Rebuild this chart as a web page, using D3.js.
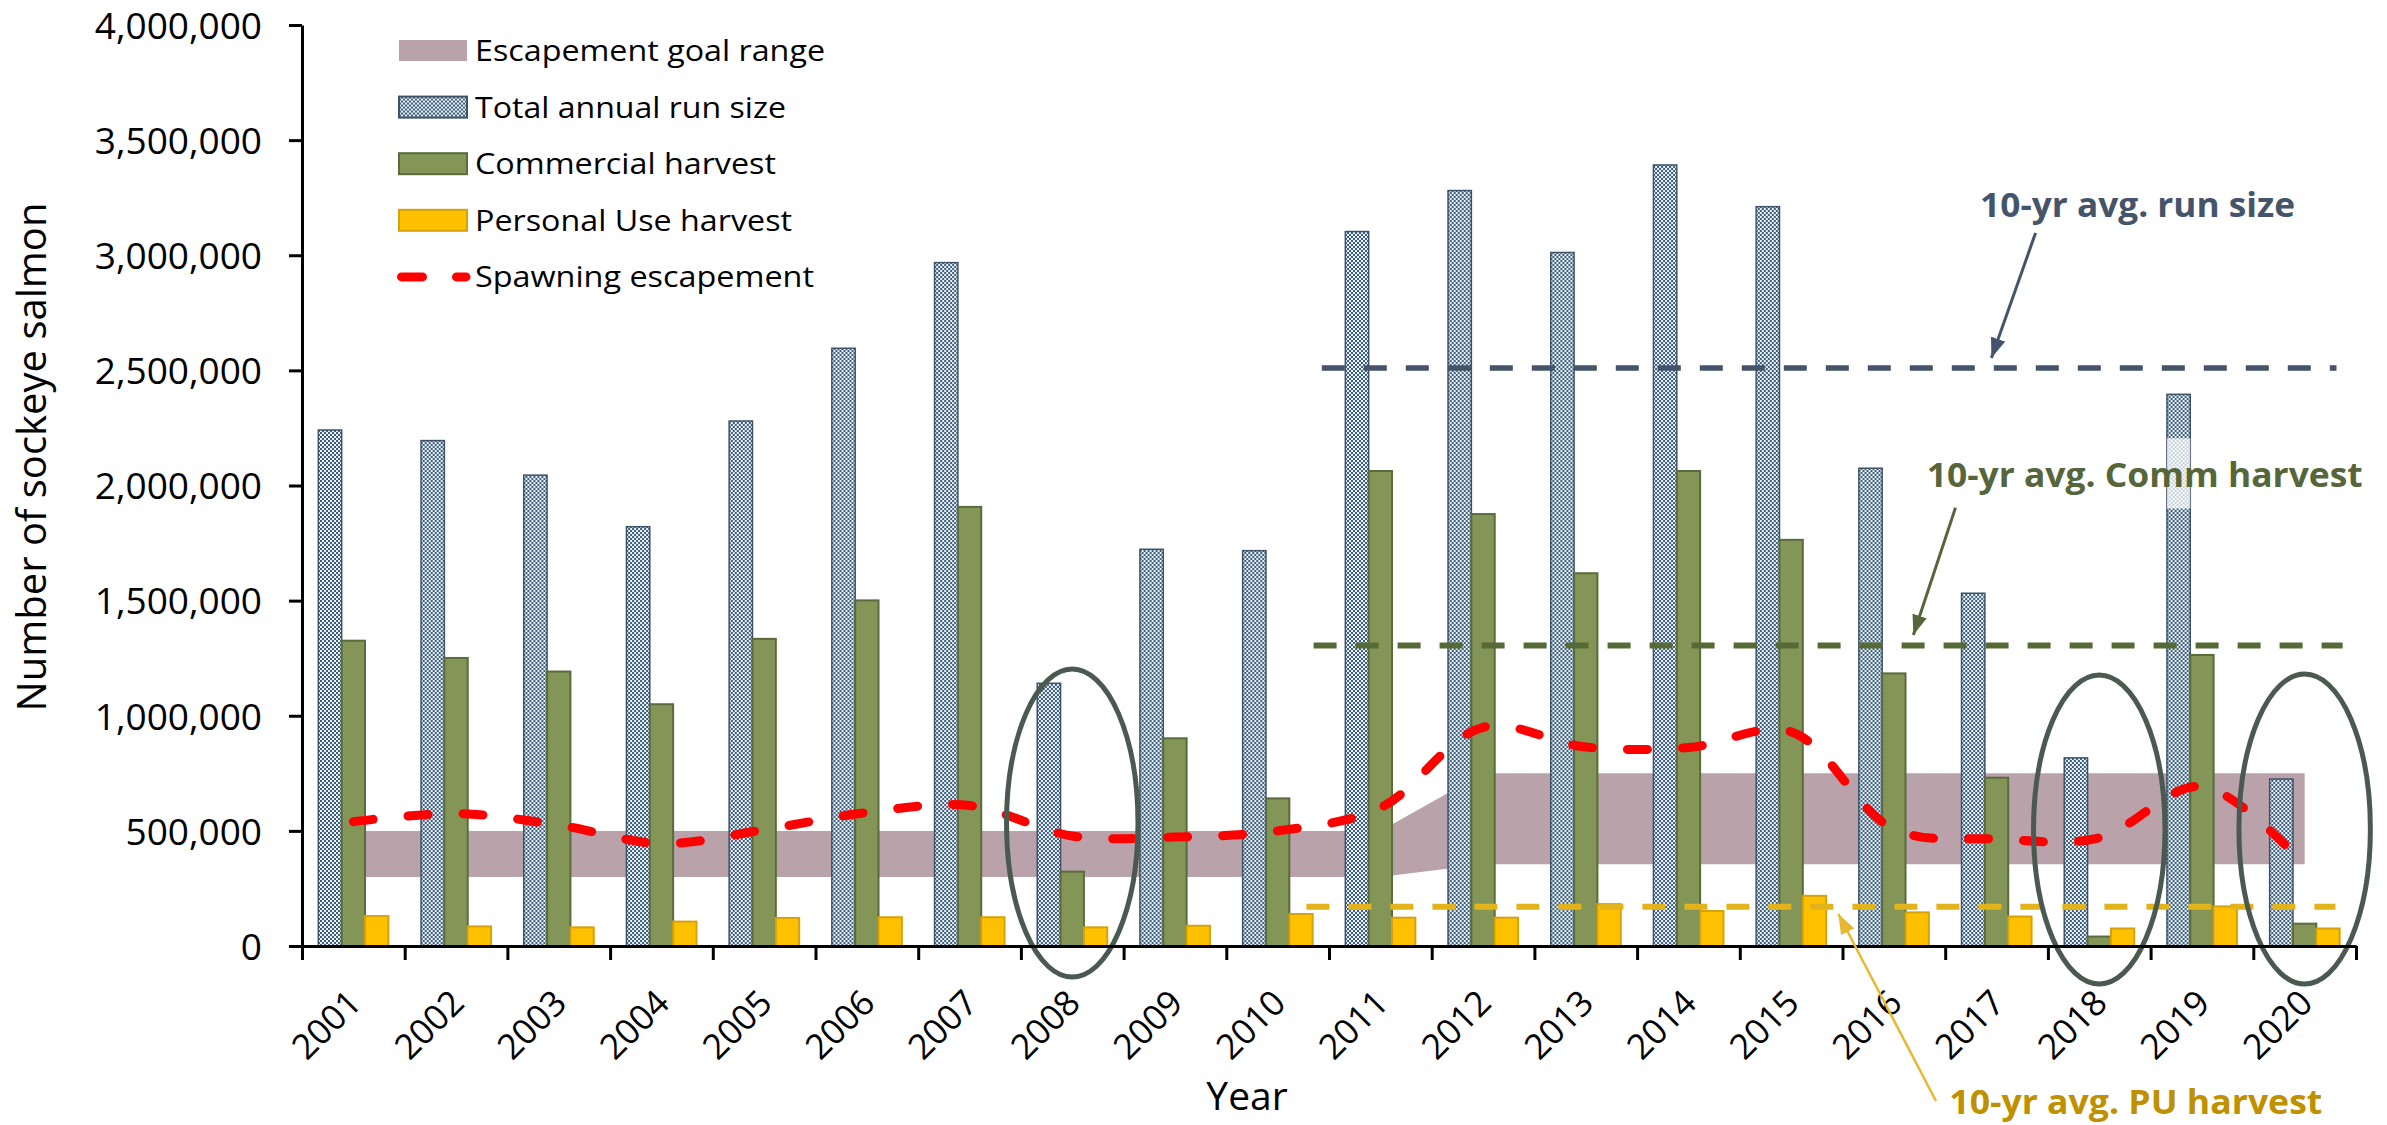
<!DOCTYPE html>
<html>
<head>
<meta charset="utf-8">
<script src="https://cdn.jsdelivr.net/npm/d3@7"></script>
<style>
  body { margin: 0; background: #fff; }
  svg { display: block; }
</style>
</head>
<body>
<svg id="chart" width="2387" height="1125"></svg>
<script>
// sockeye salmon run / harvest / escapement 2001-2020
var years = ["2001","2002","2003","2004","2005","2006","2007","2008","2009","2010",
             "2011","2012","2013","2014","2015","2016","2017","2018","2019","2020"];
var runSize = [2241000, 2195000, 2045000, 1821000, 2280000, 2596000, 2968000, 1141000, 1723000, 1717000,
               3103000, 3281000, 3012000, 3392000, 3211000, 2075000, 1532000, 817000, 2396000, 725000];
var commHarvest = [1326000, 1251000, 1192000, 1050000, 1334000, 1501000, 1907000, 323000, 902000, 641000,
                   2063000, 1876000, 1619000, 2063000, 1764000, 1184000, 731000, 41000, 1264000, 97000];
var puHarvest = [130000, 85000, 81000, 106000, 122000, 125000, 125000, 81000, 88000, 139000,
                 123000, 123000, 182000, 152000, 218000, 146000, 128000, 76000, 172000, 76000];
var escapement = [540000, 575000, 525000, 445000, 505000, 580000, 610000, 478000, 473000, 500000,
                  600000, 950000, 864000, 862000, 930000, 508000, 465000, 470000, 693000, 350000];
var goalLower = [300000, 300000, 300000, 300000, 300000, 300000, 300000, 300000, 300000, 300000,
                 300000, 355000, 355000, 355000, 355000, 355000, 355000, 355000, 355000, 355000];
var goalUpper = [500000, 500000, 500000, 500000, 500000, 500000, 500000, 500000, 500000, 500000,
                 500000, 750000, 750000, 750000, 750000, 750000, 750000, 750000, 750000, 750000];
var yTicks = [0, 500000, 1000000, 1500000, 2000000, 2500000, 3000000, 3500000, 4000000];

// 10-yr averages (value, start/end in year-index units)
var avgNames = ["run", "comm", "pu"];
var avgValues = [2510000, 1305000, 170000];
var avgStart = [9.93, 9.85, 9.78];
var avgEnd = [19.81, 19.87, 19.80];
var avgColors = ["#44546a", "#566a38", "#e3b31c"];

// annotations: label position (index units, value) and arrows
var noteText = ["10-yr avg. run size", "10-yr avg. Comm harvest", "10-yr avg. PU harvest"];
var noteColors = ["#44546a", "#56663a", "#bf9000"];
var noteX = [16.34, 15.82, 16.04];
var noteY = [3166000, 1994000, -730000];
var noteLen = [315, 436, 373];
var arrowColors = ["#44546a", "#56663a", "#e8b830"];
var arrowFrom = [[16.88, 3097000], [16.10, 1903000], [15.91, -673000]];
var arrowTo = [[16.45, 2554000], [15.69, 1351000], [14.96, 139000]];

// circled years
var circleYears = ["2008", "2018", "2020"];
var circleHi = [1203000, 1177000, 1181000];
var circleLo = [-135000, -165000, -165000];

var legendLabels = ["Escapement goal range", "Total annual run size", "Commercial harvest",
                    "Personal Use harvest", "Spawning escapement"];
var legendLens = [350, 311, 301, 317, 339];

var svg = d3.select("#chart");
var plotLeft = 302, plotRight = 2356, plotTop = 25, plotBottom = 946;

var y = d3.scaleLinear().domain([0, 4000000]).range([plotBottom, plotTop]);
var x = d3.scaleBand().domain(years).range([plotLeft, plotRight]).padding(0);
var xi = d3.scaleLinear().domain([0, 20]).range([plotLeft, plotRight]);
var xs = d3.scaleBand().domain(["run", "comm", "pu"]).range([0, x.bandwidth()]).paddingInner(0).paddingOuter(0.7);
var cx = function(yr) { return x(yr) + x.bandwidth() / 2; };

var defs = svg.append("defs");
var pat = defs.append("pattern").attr("id", "runPat")
    .attr("width", 4).attr("height", 4).attr("patternUnits", "userSpaceOnUse");
pat.append("rect").attr("width", 4).attr("height", 4).attr("fill", "#3a5f80");
pat.append("rect").attr("x", 0).attr("y", 0).attr("width", 2).attr("height", 2).attr("fill", "#eef2f5");
pat.append("rect").attr("x", 2).attr("y", 2).attr("width", 2).attr("height", 2).attr("fill", "#eef2f5");

arrowColors.forEach(function(c, i) {
    defs.append("marker").attr("id", "ah" + i)
        .attr("viewBox", "0 0 10 10").attr("refX", 10).attr("refY", 5)
        .attr("markerUnits", "userSpaceOnUse")
        .attr("markerWidth", 20).attr("markerHeight", 15)
        .attr("preserveAspectRatio", "none")
        .attr("orient", "auto")
        .append("path").attr("d", "M0,0 L10,5 L0,10 z").attr("fill", c);
});

// escapement goal range
var goal = years.map(function(d, i) { return {yr: d, lo: goalLower[i], hi: goalUpper[i]}; });
svg.append("path").datum(goal)
    .attr("fill", "#baa2aa")
    .attr("d", d3.area()
        .x(function(d) { return cx(d.yr); })
        .y0(function(d) { return y(d.lo); })
        .y1(function(d) { return y(d.hi); }));

// bars
var groups = svg.append("g").selectAll("g").data(years).join("g")
    .attr("transform", function(d) { return "translate(" + x(d) + ",0)"; });

groups.append("rect")
    .attr("x", xs("run")).attr("width", xs.bandwidth())
    .attr("y", function(d, i) { return y(runSize[i]); })
    .attr("height", function(d, i) { return y(0) - y(runSize[i]); })
    .attr("fill", "url(#runPat)").attr("stroke", "#3d5266").attr("stroke-width", 1.5);

groups.append("rect")
    .attr("x", xs("comm")).attr("width", xs.bandwidth())
    .attr("y", function(d, i) { return y(commHarvest[i]); })
    .attr("height", function(d, i) { return y(0) - y(commHarvest[i]); })
    .attr("fill", "#839658").attr("stroke", "#5a6b3c").attr("stroke-width", 2);

groups.append("rect")
    .attr("x", xs("pu")).attr("width", xs.bandwidth())
    .attr("y", function(d, i) { return y(puHarvest[i]); })
    .attr("height", function(d, i) { return y(0) - y(puHarvest[i]); })
    .attr("fill", "#ffc000").attr("stroke", "#d6a20c").attr("stroke-width", 2);

// faded patch on 2019 run bar (behind the comm label)
svg.append("rect")
    .attr("x", x("2019") + xs("run")).attr("width", xs.bandwidth())
    .attr("y", y(2205000)).attr("height", y(1900000) - y(2205000))
    .attr("fill", "#fff").attr("opacity", 0.72);

// 10-yr average lines
avgNames.forEach(function(n, i) {
    svg.append("line")
        .attr("x1", xi(avgStart[i])).attr("x2", xi(avgEnd[i]))
        .attr("y1", y(avgValues[i])).attr("y2", y(avgValues[i]))
        .attr("stroke", avgColors[i]).attr("stroke-width", i == 0 ? 5.5 : 6)
        .attr("stroke-dasharray", "23 19");
});

// spawning escapement
svg.append("path").datum(escapement)
    .attr("fill", "none").attr("stroke", "#ff0000").attr("stroke-width", 9)
    .attr("stroke-linecap", "round").attr("stroke-dasharray", "20 35")
    .attr("d", d3.line()
        .x(function(d, i) { return cx(years[i]); })
        .y(function(d) { return y(d); })
        .curve(d3.curveCatmullRom.alpha(0.5)));

// ellipses
circleYears.forEach(function(yr, i) {
    svg.append("ellipse")
        .attr("cx", cx(yr)).attr("cy", (y(circleHi[i]) + y(circleLo[i])) / 2)
        .attr("rx", x.bandwidth() * 0.64).attr("ry", (y(circleLo[i]) - y(circleHi[i])) / 2)
        .attr("fill", "none").attr("stroke", "#4b5a50").attr("stroke-width", 5);
});

// axes
var yAxis = svg.append("g").attr("transform", "translate(" + plotLeft + ",0)")
    .call(d3.axisLeft(y).tickValues(yTicks).tickFormat(d3.format(","))
        .tickSize(13).tickSizeOuter(0).tickPadding(27));
yAxis.selectAll("path, line").attr("stroke", "#000").attr("stroke-width", 3);
yAxis.selectAll("text").attr("font-family", "'Open Sans', sans-serif")
    .attr("font-size", 37).attr("fill", "#000").attr("dy", "0.36em");

var xAxis = svg.append("g").attr("transform", "translate(0," + plotBottom + ")")
    .call(d3.axisBottom(xi).tickValues(d3.range(0, 21)).tickFormat("")
        .tickSize(14).tickSizeOuter(0));
xAxis.selectAll("path, line").attr("stroke", "#000").attr("stroke-width", 3);

svg.append("g").selectAll("text").data(years).join("text")
    .attr("transform", function(d) { return "translate(" + (cx(d) + 10) + "," + (plotBottom + 59) + ") rotate(-45)"; })
    .attr("text-anchor", "end")
    .attr("font-family", "'Open Sans', sans-serif").attr("font-size", 35)
    .text(function(d) { return d; });

svg.append("text")
    .attr("transform", "translate(46,457) rotate(-90)")
    .attr("text-anchor", "middle")
    .attr("font-family", "'Open Sans', sans-serif").attr("font-size", 40)
    .text("Number of sockeye salmon");

svg.append("text")
    .attr("x", 1247).attr("y", 1110)
    .attr("text-anchor", "middle")
    .attr("font-family", "'Open Sans', sans-serif").attr("font-size", 39)
    .text("Year");

// annotations
noteText.forEach(function(t, i) {
    svg.append("line")
        .attr("x1", xi(arrowFrom[i][0])).attr("y1", y(arrowFrom[i][1]))
        .attr("x2", xi(arrowTo[i][0])).attr("y2", y(arrowTo[i][1]))
        .attr("stroke", arrowColors[i]).attr("stroke-width", i == 2 ? 2.5 : 3)
        .attr("marker-end", "url(#ah" + i + ")");
    svg.append("text")
        .attr("x", xi(noteX[i])).attr("y", y(noteY[i]))
        .attr("font-family", "'Open Sans', sans-serif").attr("font-weight", "bold")
        .attr("font-size", 34).attr("fill", noteColors[i])
        .attr("textLength", noteLen[i]).attr("lengthAdjust", "spacingAndGlyphs")
        .text(t);
});

// legend
var legend = svg.append("g").attr("transform", "translate(399,40)");
var rowH = 56.6;
var items = legend.selectAll("g").data(legendLabels).join("g")
    .attr("transform", function(d, i) { return "translate(0," + (i * rowH) + ")"; });

items.filter(function(d, i) { return i < 4; }).append("rect")
    .attr("width", 68).attr("height", 21)
    .attr("fill", function(d, i) { return ["#baa2aa", "url(#runPat)", "#839658", "#ffc000"][i]; })
    .attr("stroke", function(d, i) { return ["none", "#3d5266", "#5a6b3c", "#d6a20c"][i]; })
    .attr("stroke-width", 2);

items.filter(function(d, i) { return i == 4; }).append("line")
    .attr("x1", 2.5).attr("x2", 67).attr("y1", 10.5).attr("y2", 10.5)
    .attr("stroke", "#ff0000").attr("stroke-width", 9)
    .attr("stroke-linecap", "round").attr("stroke-dasharray", "21 34");

items.append("text")
    .attr("x", 76).attr("y", 21)
    .attr("font-family", "'Open Sans', sans-serif").attr("font-size", 30)
    .attr("textLength", function(d, i) { return legendLens[i]; })
    .attr("lengthAdjust", "spacingAndGlyphs")
    .text(function(d) { return d; });
</script>
</body>
</html>
